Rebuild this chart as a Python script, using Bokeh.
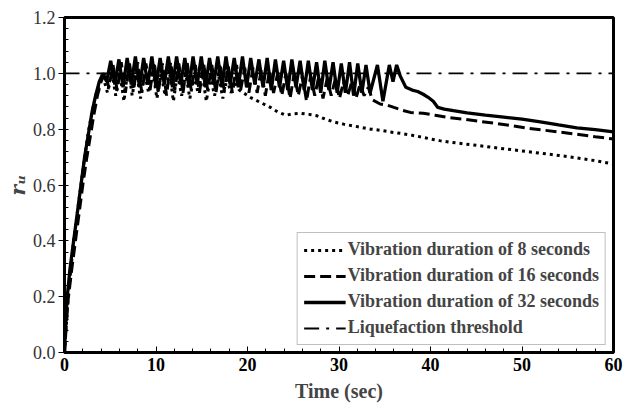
from bokeh.plotting import figure
from bokeh.models import (Range1d, SingleIntervalTicker, PrintfTickFormatter, Legend,
                          LegendItem)
from bokeh.embed import file_html
from bokeh.resources import INLINE


def interleave(troughs, peaks):
    out = []
    for i, tr in enumerate(troughs):
        out.append(tr)
        if i < len(peaks):
            out.append(peaks[i])
    return out

# ---------------- data ----------------
# 8-second vibration (dotted)
t8_rise = [0, 0.2, 0.4, 0.7, 1.0, 1.4, 1.8, 2.2, 2.6, 3.0, 3.4, 3.8, 4.2]
r8_rise = [0, 0.10, 0.20, 0.30, 0.40, 0.50, 0.60, 0.70, 0.79, 0.86, 0.92, 0.96, 0.99]
t8_osc = [4.7, 5.15, 5.6, 6.05, 6.5, 6.95, 7.4, 7.85, 8.3, 8.75, 9.2, 9.65, 10.1, 10.55,
          11.0, 11.45, 11.9, 12.35, 12.8, 13.25, 13.7, 14.15, 14.6, 15.05, 15.5, 15.95,
          16.4, 16.85, 17.3, 17.75, 18.2, 18.65, 19.1]
r8_troughs = [0.93, 0.92, 0.90, 0.92, 0.91, 0.93, 0.91, 0.92, 0.90, 0.92, 0.91, 0.93,
              0.90, 0.92, 0.91, 0.93, 0.94]
r8_peaks = [1.01, 1.00, 1.02, 1.01, 1.00, 1.01, 1.00, 1.01, 1.00, 1.00, 0.99, 1.00,
            0.99, 0.99, 0.98, 0.97]
t8_tail = [20.3, 21.4, 22.5, 23.3, 24.2, 25.0, 25.8, 26.7, 27.6, 28.5, 29.4, 30.5, 31.5,
           32.5, 33.5, 34.5, 35.6, 36.7, 38.0, 39.0, 40.0, 41.0, 42.2, 43.5, 45.0, 46.5,
           48.0, 50.0, 52.0, 54.0, 56.0, 58.0, 60.0]
r8_tail = [0.914, 0.896, 0.878, 0.862, 0.850, 0.855, 0.857, 0.853, 0.848, 0.836, 0.826,
           0.818, 0.812, 0.806, 0.800, 0.796, 0.790, 0.785, 0.778, 0.772, 0.765, 0.759,
           0.753, 0.748, 0.742, 0.736, 0.730, 0.722, 0.714, 0.706, 0.697, 0.687, 0.675]

# 16-second vibration (dashed)
t16_rise = [0, 0.2, 0.4, 0.8, 1.2, 1.6, 2.0, 2.4, 2.8, 3.2, 3.6, 4.0, 4.4]
r16_rise = [0, 0.10, 0.19, 0.30, 0.40, 0.50, 0.60, 0.69, 0.77, 0.85, 0.92, 0.97, 1.00]
t16_osc = [4.85, 5.3, 5.75, 6.2, 6.65, 7.1, 7.55, 8.0, 8.45, 8.9, 9.35, 9.8, 10.25, 10.7,
           11.15, 11.6, 12.05, 12.5, 12.95, 13.4, 13.85, 14.3, 14.75, 15.2, 15.65, 16.1,
           16.55, 17.0, 17.45, 17.9, 18.35, 18.8, 19.25, 19.7, 20.15, 20.6, 21.05, 21.5,
           21.95, 22.4, 22.85, 23.3, 23.75, 24.2, 24.65, 25.1, 25.55, 26.0, 26.45, 26.9,
           27.35, 27.8, 28.25, 28.7, 29.15, 29.6, 30.05, 30.5, 30.95, 31.4, 31.85, 32.3,
           32.75, 33.2, 33.65]
r16_troughs = [0.95, 0.94, 0.93, 0.94, 0.93, 0.94, 0.93, 0.92, 0.94, 0.93, 0.94, 0.93,
               0.94, 0.93, 0.94, 0.93, 0.94, 0.93, 0.93, 0.92, 0.93, 0.92, 0.91, 0.92,
               0.90, 0.92, 0.91, 0.92, 0.91, 0.92, 0.91, 0.92, 0.905]
r16_peaks = [1.03, 1.04, 1.035, 1.04, 1.035, 1.04, 1.035, 1.04, 1.035, 1.04, 1.03, 1.035,
             1.03, 1.035, 1.025, 1.03, 1.02, 1.02, 1.01, 1.01, 1.00, 1.00, 1.00, 0.99,
             0.99, 0.99, 0.98, 0.98, 0.97, 0.97, 0.96, 0.95]
t16_tail = [34.5, 35.2, 36.0, 36.9, 37.8, 39.2, 40.5, 41.9, 43.5, 45.4, 47.0, 49.0, 50.7,
            52.5, 54.5, 56.2, 58.0, 60.0]
r16_tail = [0.890, 0.887, 0.878, 0.868, 0.860, 0.857, 0.850, 0.842, 0.836, 0.828, 0.821,
            0.812, 0.803, 0.796, 0.788, 0.781, 0.773, 0.765]

# 32-second vibration (solid)
t32_rise = [0, 0.15, 0.3, 0.6, 1.0, 1.4, 1.8, 2.2, 2.6, 3.0, 3.4, 3.8, 4.2]
r32_rise = [0, 0.12, 0.20, 0.30, 0.40, 0.50, 0.60, 0.70, 0.78, 0.86, 0.92, 0.97, 1.00]
t32_osc = [4.6, 5.05, 5.5, 5.95, 6.4, 6.85, 7.3, 7.75, 8.2, 8.65, 9.1, 9.55, 10.0, 10.45,
           10.9, 11.35, 11.8, 12.25, 12.7, 13.15, 13.6, 14.05, 14.5, 14.95, 15.4, 15.85,
           16.3, 16.75, 17.2, 17.65, 18.1, 18.55, 19.0, 19.45, 19.9, 20.35, 20.8, 21.25,
           21.7, 22.15, 22.6, 23.05, 23.5, 23.95, 24.4, 24.85, 25.3, 25.75, 26.2, 26.65,
           27.1, 27.55, 28.0, 28.45, 28.9, 29.35, 29.8, 30.25, 30.7, 31.15, 31.6, 32.05,
           32.5, 32.95, 33.4]
r32_troughs = [0.97, 0.96, 0.95, 0.96, 0.95, 0.96, 0.95, 0.96, 0.95, 0.96, 0.95, 0.96,
               0.95, 0.96, 0.95, 0.96, 0.95, 0.95, 0.96, 0.95, 0.94, 0.95, 0.94, 0.95,
               0.94, 0.94, 0.93, 0.94, 0.93, 0.93, 0.92, 0.93, 0.93]
r32_peaks = [1.045, 1.05, 1.055, 1.06, 1.055, 1.06, 1.055, 1.06, 1.06, 1.055, 1.06, 1.06,
             1.055, 1.06, 1.06, 1.055, 1.06, 1.055, 1.05, 1.055, 1.05, 1.045, 1.05, 1.045,
             1.045, 1.04, 1.045, 1.04, 1.035, 1.04, 1.035, 1.03]
t32_tail = [34.2, 34.8, 35.5, 35.9, 36.3, 36.7, 37.3, 38.0, 38.6, 39.2, 39.7, 40.3, 40.8,
            41.5, 42.5, 44.0, 46.0, 48.0, 50.0, 52.0, 54.0, 56.0, 58.0, 60.0]
r32_tail = [1.03, 0.90, 1.03, 0.97, 1.03, 0.99, 0.95, 0.94, 0.935, 0.925, 0.915, 0.900,
            0.878, 0.872, 0.866, 0.858, 0.850, 0.843, 0.836, 0.826, 0.815, 0.805, 0.798,
            0.790]

threshold_t = [0, 60]
threshold_r = [1.0, 1.0]

labels = ["Vibration duration of 8 seconds",
          "Vibration duration of 16 seconds",
          "Vibration duration of 32 seconds",
          "Liquefaction threshold"]

t8 = t8_rise + t8_osc + t8_tail
r8 = r8_rise + interleave(r8_troughs, r8_peaks) + r8_tail
t16 = t16_rise + t16_osc + t16_tail
r16 = r16_rise + interleave(r16_troughs, r16_peaks) + r16_tail
t32 = t32_rise + t32_osc + t32_tail
r32 = r32_rise + interleave(r32_troughs, r32_peaks) + r32_tail

SERIF = "Liberation Serif"

# ---------------- figure ----------------
p = figure(width=626, height=406, x_range=Range1d(0, 60), y_range=Range1d(0, 1.2000001),
           output_backend="svg", toolbar_location=None,
           min_border_left=64, min_border_right=13, min_border_top=17, min_border_bottom=54)
p.background_fill_color = "white"
p.border_fill_color = "white"
p.outline_line_color = "black"
p.outline_line_width = 3
p.xgrid.visible = False
p.ygrid.visible = False

p.xaxis.ticker = SingleIntervalTicker(interval=10, num_minor_ticks=5)
p.yaxis.ticker = SingleIntervalTicker(interval=0.2, num_minor_ticks=5)
p.yaxis.formatter = PrintfTickFormatter(format="%.1f")

for ax in (p.xaxis[0], p.yaxis[0]):
    ax.axis_line_color = "black"
    ax.axis_line_width = 3
    ax.major_tick_line_color = "black"
    ax.minor_tick_line_color = "black"
    ax.major_tick_line_width = 1
    ax.minor_tick_line_width = 1
    ax.major_label_text_font = SERIF

p.xaxis.major_tick_in = 6
p.xaxis.major_tick_out = 0
p.xaxis.minor_tick_in = 4
p.xaxis.minor_tick_out = 0
p.xaxis.major_label_text_font_style = "bold"
p.xaxis.major_label_text_font_size = "18px"
p.xaxis.major_label_text_color = "black"
p.xaxis.major_label_standoff = 5
p.xaxis.axis_label = "Time (sec)"
p.xaxis.axis_label_text_font = SERIF
p.xaxis.axis_label_text_font_style = "bold"
p.xaxis.axis_label_text_font_size = "20px"
p.xaxis.axis_label_standoff = 6

p.yaxis.major_tick_in = 0
p.yaxis.major_tick_out = 6
p.yaxis.minor_tick_in = 4
p.yaxis.minor_tick_out = 0
p.yaxis.major_label_text_font_style = "normal"
p.yaxis.major_label_text_font_size = "18px"
p.yaxis.major_label_text_color = "#333333"
p.yaxis.major_label_standoff = 3
p.yaxis.axis_label = "r\u1d64"
p.yaxis.axis_label_text_font = "DejaVu Serif"
p.yaxis.axis_label_text_font_style = "bold italic"
p.yaxis.axis_label_text_font_size = "20px"
p.yaxis.axis_label_standoff = 0

# ---------------- series ----------------
r_d8 = p.line(t8, r8, line_color="black", line_width=3, line_dash="3 4")
r_d16 = p.line(t16, r16, line_color="black", line_width=3, line_dash="11 5")
r_d32 = p.line(t32, r32, line_color="black", line_width=3.3)
r_thr = p.line(threshold_t, threshold_r, line_color="black", line_width=1.8,
               line_dash="15 7 3 7")

legend = Legend(items=[LegendItem(label=labels[0], renderers=[r_d8]),
                       LegendItem(label=labels[1], renderers=[r_d16]),
                       LegendItem(label=labels[2], renderers=[r_d32]),
                       LegendItem(label=labels[3], renderers=[r_thr])],
                location="bottom_right")
legend.label_text_font = SERIF
legend.label_text_font_style = "bold"
legend.label_text_font_size = "18px"
legend.glyph_width = 42
legend.glyph_height = 20
legend.label_height = 20
legend.spacing = 5
legend.padding = 6
legend.margin = 7
legend.label_standoff = 2
legend.border_line_color = "#808080"
legend.border_line_width = 1.2
legend.background_fill_color = "white"
legend.background_fill_alpha = 1
p.add_layout(legend)

open("out.html", "w").write(file_html(p, INLINE))
